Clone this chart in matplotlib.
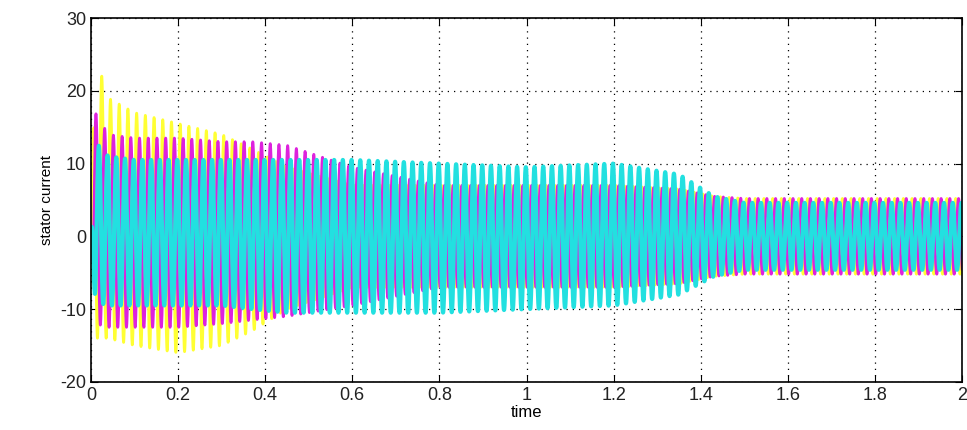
import numpy as np
import matplotlib
matplotlib.use('Agg')
import matplotlib.pyplot as plt
plt.rcParams['font.family'] = ['Liberation Sans', 'DejaVu Sans']
plt.rcParams['axes.unicode_minus'] = False

# envelope knots (time, upper, lower) for each phase
knot_t = [0.0, 0.01, 0.04, 0.1, 0.2, 0.3, 0.37, 0.45, 0.6, 0.8, 1.0, 1.2, 1.35, 1.43, 1.5, 2.0]
yel_up = [0, 25, 19, 17, 15.5, 14, 12, 9.5, 7, 7, 7, 7, 6.5, 5.5, 5.2, 5.2]
yel_lo = [0, -14, -14, -15, -16, -15, -13, -10, -7, -7, -7, -7, -6.5, -5.5, -5.2, -5.2]
mag_up = [0, 17, 14, 13.5, 13.5, 13, 13, 12.5, 9.5, 7, 7, 7, 6.5, 5.5, 5.2, 5.2]
mag_lo = [0, -12, -12.5, -12.5, -12.5, -12, -11.5, -11, -9.5, -7, -7, -7, -6.5, -5.5, -5.2, -5.2]
cyn_up = [0, 13, 11, 10.5, 10.5, 10.5, 10.5, 10.5, 10.5, 10, 9.5, 10, 8.5, 5.5, 4.6, 4.6]
cyn_lo = [0, -9, -9.5, -9.5, -9.5, -9.5, -10, -10.5, -10.5, -10.5, -10, -9.5, -8, -5.5, -4.6, -4.6]
freq = 50.0
phase_shift = [0.0, -2 * np.pi / 3, 2 * np.pi / 3]

t = np.linspace(0, 2, 40001)

def wave(up, lo, ph):
    u = np.interp(t, knot_t, up)
    l = np.interp(t, knot_t, lo)
    return (u + l) / 2 + (u - l) / 2 * np.sin(2 * np.pi * freq * t + ph)

fig = plt.figure(figsize=(9.67, 4.30), dpi=100)
ax = fig.add_axes([0.094, 0.112, 0.901, 0.846])

ax.plot(t, wave(yel_up, yel_lo, phase_shift[0]), color='#ffff33', lw=2)
ax.plot(t, wave(mag_up, mag_lo, phase_shift[1]), color='#dd22dd', lw=2)
ax.plot(t, wave(cyn_up, cyn_lo, phase_shift[2]), color='#22e0e0', lw=3)

ax.set_xlim(0, 2)
ax.set_ylim(-20, 30)
ax.set_xticks(np.arange(0, 2.01, 0.2))
ax.set_xticklabels(['0', '0.2', '0.4', '0.6', '0.8', '1', '1.2', '1.4', '1.6', '1.8', '2'])
ax.set_yticks([-20, -10, 0, 10, 20, 30])
ax.tick_params(direction='in', top=True, right=True, labelsize=13, length=5,
               labelcolor='#222222')
ax.grid(True, color='black', linestyle=(0, (1, 4)), linewidth=0.9)
for s in ax.spines.values():
    s.set_linewidth(1.2)
ax.set_xlabel('time', fontsize=12, labelpad=1)
ax.set_ylabel('stator current', fontsize=11)

fig.savefig('out.png', dpi=100)
